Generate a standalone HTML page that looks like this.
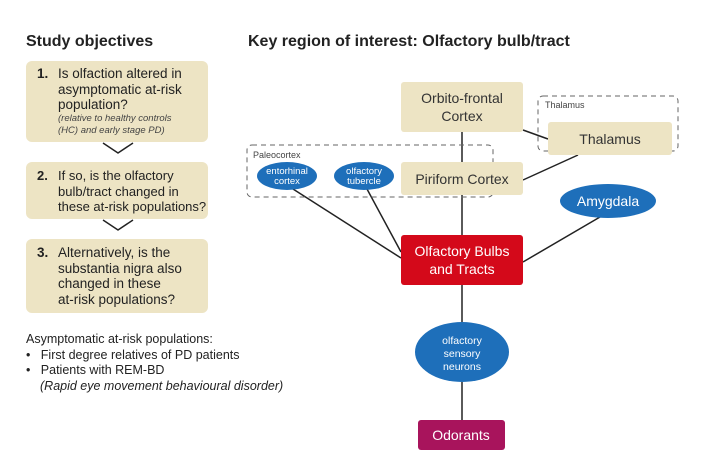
<!DOCTYPE html>
<html><head><meta charset="utf-8"><style>
body{margin:0;width:702px;height:473px;background:#fff;font-family:"Liberation Sans",sans-serif;position:relative;overflow:hidden;color:#222}
.a{position:absolute}
.h{font-weight:bold;font-size:16px;color:#222}
.lb{position:absolute;left:26px;width:182px;background:#ede4c4;border-radius:6px;font-size:13.5px;line-height:15.5px;box-sizing:border-box;padding:5px 4px 5px 32px;white-space:nowrap}
.lb b{position:absolute;left:11px;top:5px}
.t{font-size:12.5px;line-height:15.5px;white-space:nowrap}
</style></head><body>
<div class="a h" style="left:26px;top:33px">Study objectives</div>
<div class="a h" style="left:248px;top:33px">Key region of interest: Olfactory bulb/tract</div>

<div class="lb" style="top:61px;height:81px"><b>1.</b>Is olfaction altered in<br>asymptomatic at-risk<br>population?<br><i style="font-size:9.5px;line-height:12.5px;display:block;color:#444">(relative to healthy controls<br>(HC) and early stage PD)</i></div>
<div class="lb" style="top:162px;height:57px;padding-top:6px;font-size:13px"><b style="top:6px">2.</b>If so, is the olfactory<br>bulb/tract changed in<br>these at-risk populations?</div>
<div class="lb" style="top:239px;height:74px;padding-top:6px"><b style="top:6px">3.</b>Alternatively, is the<br>substantia nigra also<br>changed in these<br>at-risk populations?</div>

<div class="a t" style="left:26px;top:332px">Asymptomatic at-risk populations:</div>
<div class="a t" style="left:26px;top:348px">•&nbsp;&nbsp; First degree relatives of PD patients</div>
<div class="a t" style="left:26px;top:363px">•&nbsp;&nbsp; Patients with REM-BD</div>
<div class="a t" style="left:40px;top:379px"><i>(Rapid eye movement behavioural disorder)</i></div>

<svg class="a" style="left:0;top:0" width="702" height="473">
<g fill="none" stroke="#222" stroke-width="1.5">
<polyline points="103,143 118,153 133,143"/>
<polyline points="103,220 118,230 133,220"/>
<line x1="462" y1="132" x2="462" y2="162"/>
<line x1="462" y1="195" x2="462" y2="235"/>
<line x1="462" y1="285" x2="462" y2="322"/>
<line x1="462" y1="382" x2="462" y2="420"/>
<line x1="293" y1="189" x2="401" y2="258"/>
<line x1="367" y1="189" x2="401" y2="252"/>
<line x1="600" y1="217" x2="523" y2="262"/>
<line x1="523" y1="180" x2="578" y2="155"/>
<line x1="523" y1="130" x2="548" y2="139"/>
</g>
<g fill="none" stroke="#666" stroke-width="1" stroke-dasharray="5,4">
<rect x="538" y="96" width="140" height="55" rx="5"/>
<rect x="247" y="145" width="246" height="52" rx="5"/>
</g>
<rect x="401" y="82" width="122" height="50" rx="3" fill="#ede4c4"/>
<rect x="548" y="122" width="124" height="33" rx="3" fill="#ede4c4"/>
<rect x="401" y="162" width="122" height="33" rx="3" fill="#ede4c4"/>
<rect x="401" y="235" width="122" height="50" rx="3" fill="#d4091a"/>
<rect x="418" y="420" width="87" height="30" rx="3" fill="#a8145c"/>
<g fill="#1e6fba">
<ellipse cx="287" cy="176" rx="30" ry="14"/>
<ellipse cx="364" cy="176" rx="30" ry="14"/>
<ellipse cx="608" cy="201" rx="48" ry="17"/>
<ellipse cx="462" cy="352" rx="47" ry="30"/>
</g>
<g font-family="Liberation Sans, sans-serif" text-anchor="middle">
<text x="462" y="103" font-size="14" fill="#333">Orbito-frontal</text>
<text x="462" y="121" font-size="14" fill="#333">Cortex</text>
<text x="610" y="144" font-size="14" fill="#333">Thalamus</text>
<text x="462" y="184" font-size="14" fill="#333">Piriform Cortex</text>
<text x="462" y="256" font-size="14" fill="#fff">Olfactory Bulbs</text>
<text x="462" y="274" font-size="14" fill="#fff">and Tracts</text>
<text x="461" y="440" font-size="14" fill="#fff">Odorants</text>
<text x="608" y="206" font-size="14" fill="#fff">Amygdala</text>
<text x="287" y="174" font-size="9.5" fill="#fff">entorhinal</text>
<text x="287" y="184" font-size="9.5" fill="#fff">cortex</text>
<text x="364" y="174" font-size="9.5" fill="#fff">olfactory</text>
<text x="364" y="184" font-size="9.5" fill="#fff">tubercle</text>
<text x="462" y="344" font-size="10.5" fill="#fff">olfactory</text>
<text x="462" y="357" font-size="10.5" fill="#fff">sensory</text>
<text x="462" y="370" font-size="10.5" fill="#fff">neurons</text>
</g>
<g font-family="Liberation Sans, sans-serif" font-size="9" fill="#444">
<text x="545" y="108">Thalamus</text>
<text x="253" y="158">Paleocortex</text>
</g>
</svg>
</body></html>
